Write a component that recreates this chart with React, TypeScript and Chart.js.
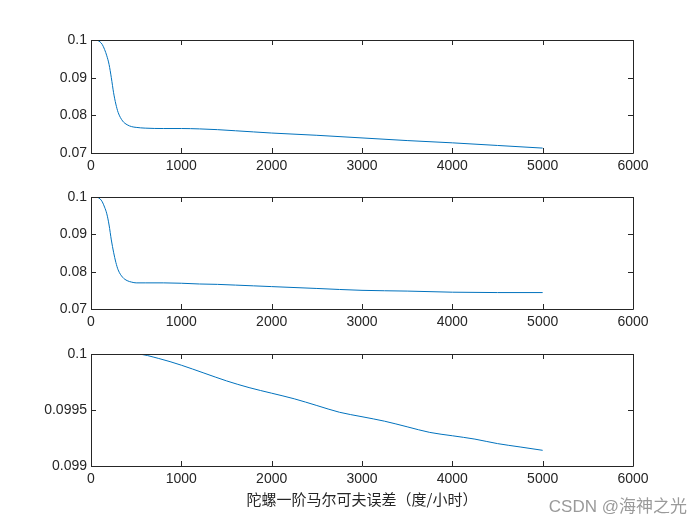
import React, { useEffect, useRef } from "react";
import { Chart, registerables } from "chart.js";
Chart.register(...registerables);

// Time axis (hours) and values
const xSteps1 = [0, 50, 100, 125, 150, 175, 200, 225, 250, 275, 300, 350, 400, 450, 500, 600, 800, 1000, 1200, 1400, 1600, 1800, 2000, 2500, 3000, 3500, 4000, 4500, 5000];
const errA = [0.1, 0.1, 0.0995, 0.0988, 0.0975, 0.0958, 0.0935, 0.09, 0.086, 0.083, 0.0808, 0.0785, 0.0775, 0.077, 0.0768, 0.0766, 0.0765, 0.0765, 0.0764, 0.0762, 0.0759, 0.0756, 0.0753, 0.0747, 0.074, 0.0733, 0.0727, 0.072, 0.0713];
const errB = [0.1, 0.1, 0.0995, 0.0987, 0.0973, 0.0955, 0.0925, 0.0885, 0.0852, 0.0825, 0.0805, 0.0785, 0.0776, 0.0772, 0.077, 0.077, 0.077, 0.0769, 0.0767, 0.0766, 0.0764, 0.0762, 0.076, 0.0755, 0.075, 0.0748, 0.0745, 0.0744, 0.0744];
const xSteps3 = [0, 250, 500, 750, 1000, 1250, 1500, 1750, 2000, 2250, 2500, 2750, 3000, 3250, 3500, 3750, 4000, 4250, 4500, 4750, 5000];
const errC = [0.1, 0.1, 0.1, 0.09996, 0.0999, 0.09983, 0.09976, 0.0997, 0.09965, 0.0996, 0.09954, 0.09948, 0.09944, 0.0994, 0.09935, 0.0993, 0.09927, 0.09924, 0.0992, 0.09917, 0.09914];

const xAxisLabel = "陀螺一阶马尔可夫误差（度/小时）";
const watermark = "CSDN @海神之光";

const AXIS_COLOR = "#262626";
const LINE_COLOR = "#0072BD";
const FONT = "'Liberation Sans', Arial, sans-serif";

const boxPlugin = {
  id: "matlabBox",
  afterDraw(chart: any) {
    const { ctx, chartArea } = chart;
    const { left, right, top, bottom } = chartArea;
    ctx.save();
    ctx.strokeStyle = AXIS_COLOR;
    ctx.lineWidth = 1;
    ctx.beginPath();
    ctx.rect(Math.round(left) + 0.5, Math.round(top) + 0.5, Math.round(right - left), Math.round(bottom - top));
    ctx.stroke();
    const tl = 5;
    const xs = chart.scales.x;
    const ys = chart.scales.y;
    ctx.beginPath();
    xs.ticks.forEach((t: any) => {
      const px = Math.round(xs.getPixelForValue(t.value)) + 0.5;
      ctx.moveTo(px, bottom);
      ctx.lineTo(px, bottom - tl);
      ctx.moveTo(px, top);
      ctx.lineTo(px, top + tl);
    });
    ys.ticks.forEach((t: any) => {
      const py = Math.round(ys.getPixelForValue(t.value)) + 0.5;
      ctx.moveTo(left, py);
      ctx.lineTo(left + tl, py);
      ctx.moveTo(right, py);
      ctx.lineTo(right - tl, py);
    });
    ctx.stroke();
    ctx.restore();
  },
};

type PanelProps = {
  top: number;
  height: number;
  padTop: number;
  axisHeight: number;
  xs: number[];
  ys: number[];
  yMin: number;
  yMax: number;
  yStep: number;
  title?: string;
};

function Panel(p: PanelProps) {
  const ref = useRef<HTMLCanvasElement | null>(null);
  useEffect(() => {
    if (!ref.current) return;
    const pts = p.xs.map((x, i) => ({ x, y: p.ys[i] }));
    const chart = new Chart(ref.current, {
      type: "line",
      data: {
        datasets: [
          {
            data: pts,
            borderColor: LINE_COLOR,
            borderWidth: 1,
            pointRadius: 0,
            cubicInterpolationMode: "monotone",
            fill: false,
          },
        ],
      },
      options: {
        animation: false,
        responsive: false,
        devicePixelRatio: 1,
        events: [],
        layout: { padding: { top: p.padTop, right: 67, left: 0, bottom: 0 } },
        plugins: { legend: { display: false }, tooltip: { enabled: false }, title: { display: false } },
        scales: {
          x: {
            type: "linear",
            min: 0,
            max: 6000,
            grid: { display: false, drawTicks: false },
            border: { display: false },
            ticks: {
              stepSize: 1000,
              color: AXIS_COLOR,
              font: { family: FONT, size: 14 },
              padding: 5,
              maxRotation: 0,
              autoSkip: false,
              callback: (v: any) => String(Math.round(Number(v))),
            },
            title: p.title
              ? { display: true, text: p.title, color: AXIS_COLOR, font: { family: "'Noto Sans CJK SC', sans-serif", size: 15 }, padding: { top: 0, bottom: 17 } }
              : { display: false },
            afterFit: (s: any) => {
              s.height = p.axisHeight;
            },
          },
          y: {
            type: "linear",
            min: p.yMin,
            max: p.yMax,
            grid: { display: false, drawTicks: false },
            border: { display: false },
            ticks: {
              stepSize: p.yStep,
              color: AXIS_COLOR,
              font: { family: FONT, size: 14 },
              padding: 4,
              callback: (v: any) => String(parseFloat(Number(v).toFixed(6))),
            },
            afterFit: (s: any) => {
              s.width = 91;
            },
          },
        },
      },
      plugins: [boxPlugin],
    } as any);
    return () => chart.destroy();
  }, []);
  return (
    <canvas
      ref={ref}
      width={700}
      height={p.height}
      style={{ position: "absolute", left: 0, top: p.top, width: 700, height: p.height }}
    />
  );
}

export default function App() {
  return (
    <div style={{ position: "absolute", left: 0, top: 0, width: 700, height: 525, background: "#fff", overflow: "hidden" }}>
      <Panel top={0} height={175} padTop={40} axisHeight={22} xs={xSteps1} ys={errA} yMin={0.07} yMax={0.1} yStep={0.01} />
      <Panel top={175} height={157} padTop={22} axisHeight={23} xs={xSteps1} ys={errB} yMin={0.07} yMax={0.1} yStep={0.01} />
      <Panel top={332} height={193} padTop={22} axisHeight={59} xs={xSteps3} ys={errC} yMin={0.099} yMax={0.1} yStep={0.0005} title={xAxisLabel} />
      <div
        style={{
          position: "absolute",
          right: 13,
          top: 496,
          fontFamily: "'Liberation Sans', 'Noto Sans CJK SC', sans-serif",
          fontSize: 17,
          lineHeight: "22px",
          color: "#9a9a9a",
          whiteSpace: "nowrap",
        }}
      >
        {watermark}
      </div>
    </div>
  );
}
